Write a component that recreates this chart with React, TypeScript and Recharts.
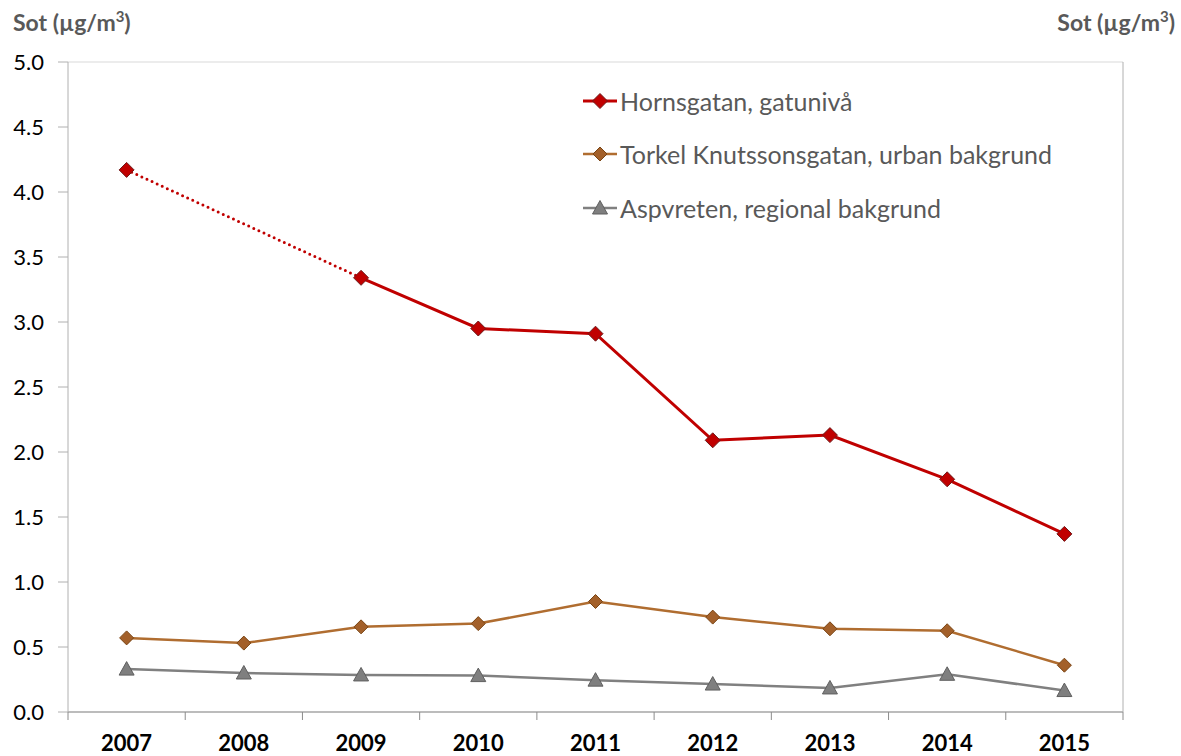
import React from 'react';
import {
  LineChart,
  Line,
  XAxis,
  YAxis,
  CartesianGrid,
  Legend,
} from 'recharts';

// år och mätvärden (sot, µg/m³)
const years = ['2007', '2008', '2009', '2010', '2011', '2012', '2013', '2014', '2015'];
const hornsgatan = [4.17, null, 3.34, 2.95, 2.91, 2.09, 2.13, 1.79, 1.37];
const torkel = [0.57, 0.53, 0.655, 0.68, 0.85, 0.73, 0.64, 0.625, 0.36];
const aspvreten = [0.33, 0.3, 0.285, 0.28, 0.245, 0.215, 0.185, 0.29, 0.165];
const yTicks = [0, 0.5, 1, 1.5, 2, 2.5, 3, 3.5, 4, 4.5, 5];

const seriesNames = {
  hornsgatan: 'Hornsgatan, gatunivå',
  torkel: 'Torkel Knutssonsgatan, urban bakgrund',
  aspvreten: 'Aspvreten, regional bakgrund',
};
const legendOrder = ['hornsgatan', 'torkel', 'aspvreten'];

// streckad del: bara punkterna intill saknat värde
const hornsGap = hornsgatan.map((v, i) =>
  v != null && (hornsgatan[i - 1] === null || hornsgatan[i + 1] === null) ? v : null
);

const data = years.map((year, i) => ({
  year,
  hornsgatan: hornsgatan[i],
  hornsGap: hornsGap[i],
  torkel: torkel[i],
  aspvreten: aspvreten[i],
}));

const W = 1181;
const H = 756;
const LEFT_W = 68;
const RIGHT_W = 58;
const TOP = 62;
const X_H = 44;
const BAND = (W - LEFT_W - RIGHT_W) / years.length;

const FONT = 'Lato, "Open Sans", sans-serif';

const STYLE: Record<string, any> = {
  hornsgatan: { line: '#c00000', fill: '#c00000', edge: '#6e1a1a', shape: 'diamond', r: 7.5, width: 3 },
  torkel: { line: '#b06d30', fill: '#a3602a', edge: '#7a4514', shape: 'diamond', r: 7, width: 2.5 },
  aspvreten: { line: '#808080', fill: '#7f7f7f', edge: '#5f5f5f', shape: 'triangle', r: 7.5, width: 2.5 },
};

const Marker = ({ cx, cy, s }: { cx: number; cy: number; s: any }) => {
  const r = s.r;
  if (s.shape === 'triangle') {
    const pts = `${cx},${cy - r} ${cx + r},${cy + r * 0.8} ${cx - r},${cy + r * 0.8}`;
    return <polygon points={pts} fill={s.fill} stroke={s.edge} strokeWidth={1} />;
  }
  const pts = `${cx},${cy - r} ${cx + r},${cy} ${cx},${cy + r} ${cx - r},${cy}`;
  return <polygon points={pts} fill={s.fill} stroke={s.edge} strokeWidth={1} />;
};

const makeDot = (key: string) => (props: any) => {
  const { cx, cy, value, index } = props;
  if (value == null || cx == null || cy == null) return <g key={`${key}-${index}`} />;
  return (
    <g key={`${key}-${index}`}>
      <Marker cx={cx} cy={cy} s={STYLE[key]} />
    </g>
  );
};

const XTick = (props: any) => {
  const { x, y, payload, index } = props;
  const last = index === years.length - 1;
  return (
    <g>
      <line x1={x - BAND / 2} x2={x - BAND / 2} y1={y} y2={y + 8} stroke="#8c8c8c" />
      {last && <line x1={x + BAND / 2} x2={x + BAND / 2} y1={y} y2={y + 8} stroke="#8c8c8c" />}
      <text x={x} y={y + 39} textAnchor="middle" fontFamily={FONT} fontWeight={700} fontSize={22} fill="#000">
        {payload.value}
      </text>
    </g>
  );
};

const renderLegend = (props: any) => {
  const all = props.payload || [];
  const items = legendOrder
    .map((k) => all.find((p: any) => p.dataKey === k))
    .filter(Boolean);
  return (
    <div style={{ background: '#fff', width: '100%', height: '100%' }}>
      {items.map((p: any) => {
        const s = STYLE[p.dataKey];
        return (
          <div key={p.dataKey} style={{ display: 'flex', alignItems: 'center', height: 53.5 }}>
            <svg width={52} height={20} style={{ flex: 'none' }}>
              <line x1={15} x2={49} y1={10} y2={10} stroke={s.line} strokeWidth={s.width} />
              <Marker cx={32} cy={10} s={s} />
            </svg>
            <span style={{ fontFamily: FONT, fontSize: 25, color: '#595959', whiteSpace: 'nowrap' }}>
              {p.value}
            </span>
          </div>
        );
      })}
    </div>
  );
};

const titleStyle: React.CSSProperties = {
  position: 'absolute',
  top: 8,
  fontFamily: FONT,
  fontWeight: 700,
  fontSize: 23,
  color: '#595959',
  whiteSpace: 'nowrap',
};

const Sup = () => (
  <sup style={{ fontSize: 15, verticalAlign: 'top', position: 'relative', top: -1 }}>3</sup>
);

export default function App() {
  return (
    <div style={{ position: 'absolute', left: 0, top: 0, width: W, height: H, background: '#fff' }}>
      <LineChart width={W} height={H} data={data} margin={{ top: TOP, right: 0, bottom: 0, left: 0 }}>
        <CartesianGrid horizontal vertical={false} stroke="#d9d9d9" />
        <XAxis
          dataKey="year"
          scale="band"
          height={X_H}
          axisLine={{ stroke: '#8c8c8c' }}
          tickLine={false}
          tickSize={0}
          tickMargin={0}
          tick={<XTick />}
          interval={0}
        />
        <YAxis
          yAxisId="left"
          orientation="left"
          width={LEFT_W}
          domain={[0, 5]}
          ticks={yTicks}
          tickFormatter={(v: number) => v.toFixed(1)}
          axisLine={{ stroke: '#b0b0b0' }}
          tickLine={{ stroke: '#b0b0b0' }}
          tickSize={10}
          tickMargin={14}
          tick={{ fontFamily: FONT, fontSize: 22, fill: '#000' }}
        />
        <YAxis
          yAxisId="right"
          orientation="right"
          width={RIGHT_W}
          domain={[0, 5]}
          ticks={yTicks}
          tickFormatter={(v: number) => v.toFixed(1)}
          axisLine={{ stroke: '#b0b0b0' }}
          tickLine={{ stroke: '#b0b0b0' }}
          tickSize={7}
          tickMargin={17}
          tick={{ fontFamily: FONT, fontSize: 22, fill: '#000' }}
        />
        <Legend
          layout="vertical"
          align="center"
          verticalAlign="middle"
          content={renderLegend}
          wrapperStyle={{ left: 568, top: 74, width: 505, height: 152 }}
        />
        <Line
          yAxisId="left"
          dataKey="hornsGap"
          stroke={STYLE.hornsgatan.line}
          strokeWidth={3}
          strokeDasharray="0 5.6"
          strokeLinecap="round"
          connectNulls
          dot={false}
          activeDot={false}
          legendType="none"
          isAnimationActive={false}
        />
        <Line
          yAxisId="left"
          dataKey="hornsgatan"
          name={seriesNames.hornsgatan}
          stroke={STYLE.hornsgatan.line}
          strokeWidth={STYLE.hornsgatan.width}
          dot={makeDot('hornsgatan')}
          activeDot={false}
          isAnimationActive={false}
        />
        <Line
          yAxisId="left"
          dataKey="torkel"
          name={seriesNames.torkel}
          stroke={STYLE.torkel.line}
          strokeWidth={STYLE.torkel.width}
          dot={makeDot('torkel')}
          activeDot={false}
          isAnimationActive={false}
        />
        <Line
          yAxisId="left"
          dataKey="aspvreten"
          name={seriesNames.aspvreten}
          stroke={STYLE.aspvreten.line}
          strokeWidth={STYLE.aspvreten.width}
          dot={makeDot('aspvreten')}
          activeDot={false}
          isAnimationActive={false}
        />
      </LineChart>
      <div style={{ ...titleStyle, left: 13 }}>
        Sot (µg/m<Sup />)
      </div>
      <div style={{ ...titleStyle, right: 6 }}>
        Sot (µg/m<Sup />)
      </div>
    </div>
  );
}
